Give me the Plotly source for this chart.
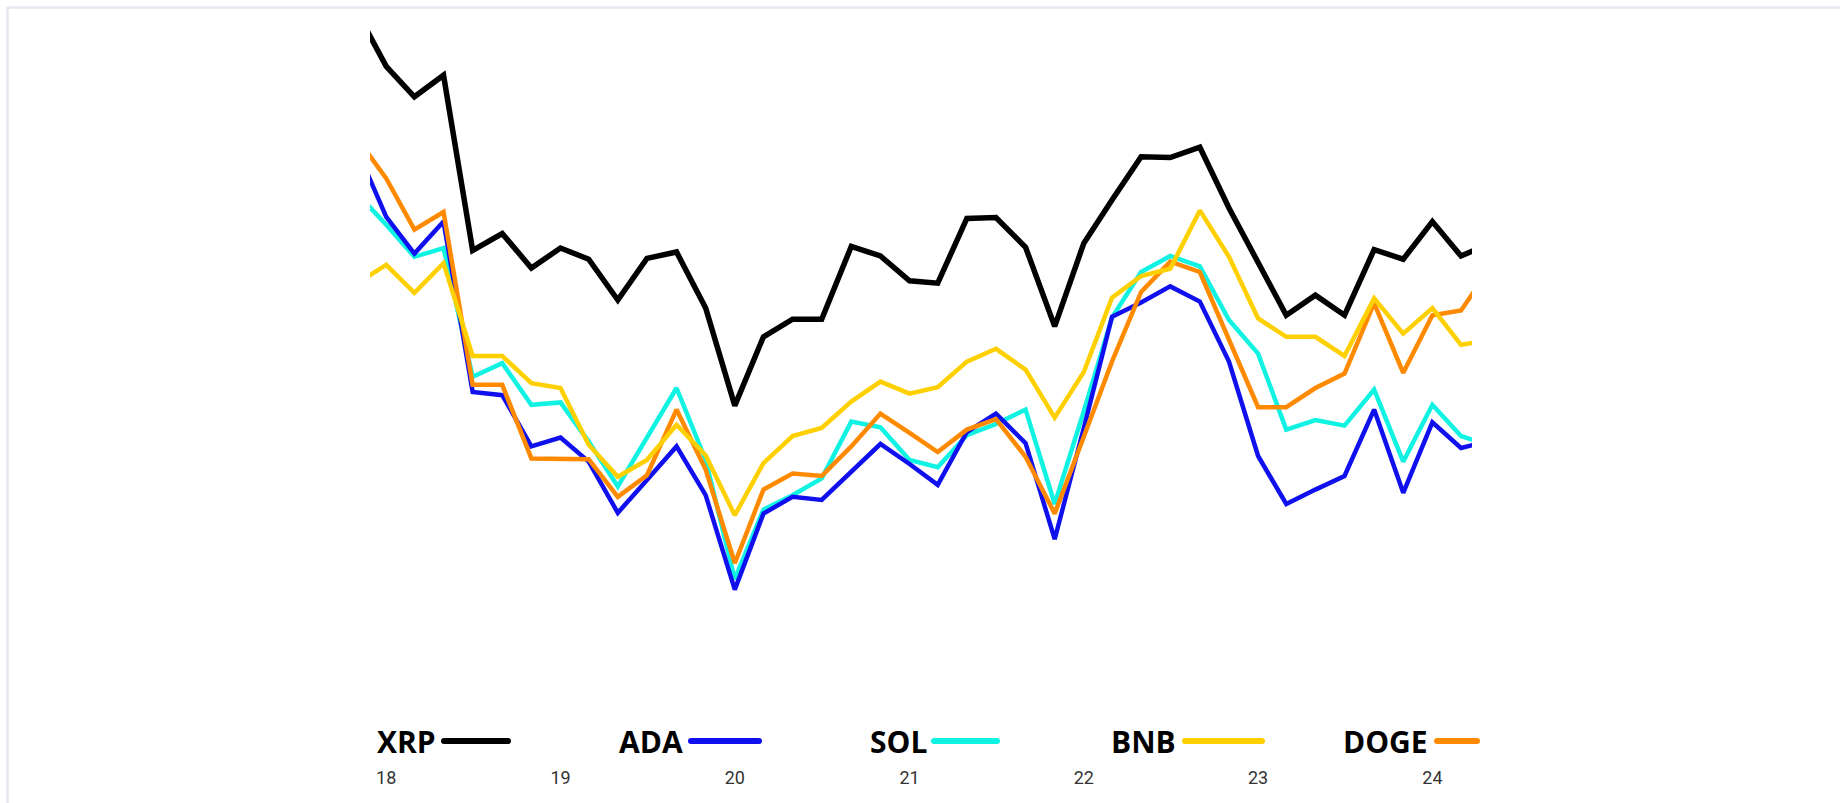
import plotly.graph_objects as go

# ---------------- data ----------------
dates = [
    "2017-11-01",
    "2018-01-01", "2018-03-01", "2018-05-01", "2018-07-01", "2018-09-01", "2018-11-01",
    "2019-01-01", "2019-03-01", "2019-05-01", "2019-07-01", "2019-09-01", "2019-11-01",
    "2020-01-01", "2020-03-01", "2020-05-01", "2020-07-01", "2020-09-01", "2020-11-01",
    "2021-01-01", "2021-03-01", "2021-05-01", "2021-07-01", "2021-09-01", "2021-11-01",
    "2022-01-01", "2022-03-01", "2022-05-01", "2022-07-01", "2022-09-01", "2022-11-01",
    "2023-01-01", "2023-03-01", "2023-05-01", "2023-07-01", "2023-09-01", "2023-11-01",
    "2024-01-01", "2024-03-01", "2024-05-01",
]

xrp = [98.5, 91.7, 87.9, 90.6, 68.7, 70.8, 66.5, 69.0, 67.6, 62.5, 67.7, 68.5, 61.5, 49.3,
       57.9, 60.1, 60.1, 69.2, 68.0, 64.9, 64.6, 72.7, 72.8, 69.1, 59.2, 69.6, 75.0, 80.4,
       80.3, 81.6, 74.0, 67.3, 60.6, 63.1, 60.6, 68.8, 67.6, 72.3, 68.0, 69.6]
ada = [81.3, 72.9, 68.3, 72.3, 51.0, 50.6, 44.2, 45.3, 42.3, 35.9, 40.0, 44.2, 38.1, 26.3,
       35.8, 37.9, 37.5, 41.1, 44.5, 42.0, 39.4, 46.0, 48.3, 44.6, 32.6, 46.5, 60.4, 62.2,
       64.2, 62.3, 54.8, 43.0, 37.0, 38.8, 40.5, 48.8, 38.4, 47.2, 44.0, 44.9]
sol = [75.8, 71.9, 67.9, 69.0, 52.9, 54.6, 49.4, 49.7, 44.8, 39.2, 45.3, 51.5, 42.5, 27.6,
       36.3, 38.1, 40.2, 47.3, 46.6, 42.5, 41.6, 45.6, 47.0, 48.8, 37.0, 48.6, 60.3, 66.0,
       68.0, 66.7, 60.0, 55.8, 46.3, 47.5, 46.8, 51.3, 42.3, 49.4, 45.5, 44.3]
bnb = [64.6, 66.9, 63.4, 67.1, 55.5, 55.5, 52.1, 51.5, 44.4, 40.4, 42.5, 46.9, 43.1, 35.6,
       42.1, 45.5, 46.5, 49.8, 52.3, 50.8, 51.6, 54.8, 56.4, 53.8, 47.8, 53.5, 62.8, 65.5,
       66.4, 73.7, 67.9, 60.2, 57.9, 57.9, 55.5, 62.7, 58.3, 61.5, 56.9, 57.5]
doge = [82.7, 77.7, 71.3, 73.5, 51.9, 51.9, 42.7, 42.7, 42.6, 37.9, 40.6, 48.8, 41.3, 29.6,
        38.8, 40.8, 40.5, 44.2, 48.3, 45.9, 43.5, 46.3, 47.6, 42.9, 35.8, 45.4, 54.8, 63.5,
        67.3, 66.0, 57.5, 49.1, 49.1, 51.5, 53.3, 62.1, 53.4, 60.6, 61.2, 66.5]

series_names = ["XRP", "ADA", "SOL", "BNB", "DOGE"]
series_values = {"XRP": xrp, "ADA": ada, "SOL": sol, "BNB": bnb, "DOGE": doge}
tick_vals = ["2018-01-01", "2019-01-01", "2020-01-01", "2021-01-01",
             "2022-01-01", "2023-01-01", "2024-01-01"]
tick_text = ["18", "19", "20", "21", "22", "23", "24"]

# ---------------- styling ----------------
colors = {"XRP": "#000000", "ADA": "#1010ee", "SOL": "#10f2e2", "BNB": "#ffd000", "DOGE": "#ff8a00"}
widths = {"XRP": 5.5, "ADA": 4.5, "SOL": 4.5, "BNB": 4.5, "DOGE": 4.5}
draw_order = ["SOL", "ADA", "DOGE", "BNB", "XRP"]

W, H = 1840, 803
PL, PR, PT, PB = 370, 1472, 8, 765


def fx(p):
    return (p - PL) / (PR - PL)


def fy(p):
    return (PB - p) / (PB - PT)


fig = go.Figure()
for name in draw_order:
    fig.add_trace(go.Scatter(
        x=dates, y=series_values[name], mode="lines", name=name,
        line=dict(color=colors[name], width=widths[name]),
        showlegend=False,
    ))

# custom legend (text followed by a line sample with rounded ends)
legend_pos = {  # text right edge, line start, line end (pixels)
    "XRP": (438, 444, 508),
    "ADA": (685, 691, 759),
    "SOL": (929, 934, 997),
    "BNB": (1178, 1185, 1262),
    "DOGE": (1430, 1437, 1477),
}
legend_y = 741
lw = 6
annotations = []
shapes = []
for name in series_names:
    tr, l0, l1 = legend_pos[name]
    annotations.append(dict(
        x=fx(tr), y=fy(legend_y), xref="paper", yref="paper",
        text=f"<b>{name}</b>", showarrow=False, xanchor="right", yanchor="middle",
        font=dict(family="Open Sans, sans-serif", size=30, color="#000000"),
    ))
    shapes.append(dict(
        type="line", xref="paper", yref="paper",
        x0=fx(l0), x1=fx(l1), y0=fy(legend_y), y1=fy(legend_y),
        line=dict(color=colors[name], width=lw),
    ))
    for cx in (l0, l1):
        shapes.append(dict(
            type="circle", xref="paper", yref="paper",
            x0=fx(cx - lw / 2), x1=fx(cx + lw / 2),
            y0=fy(legend_y + lw / 2), y1=fy(legend_y - lw / 2),
            fillcolor=colors[name], line=dict(width=0),
        ))

# light frame
frame_col = "#e3e8ee"
shapes.append(dict(type="line", xref="paper", yref="paper", x0=fx(7), x1=fx(1845),
                   y0=fy(7.5), y1=fy(7.5), line=dict(color=frame_col, width=2.5)))
shapes.append(dict(type="line", xref="paper", yref="paper", x0=fx(7.5), x1=fx(7.5),
                   y0=fy(7), y1=fy(810), line=dict(color=frame_col, width=2.5)))

fig.update_layout(
    width=W, height=H,
    margin=dict(l=PL, r=W - PR, t=PT, b=H - PB, pad=0),
    paper_bgcolor="#ffffff", plot_bgcolor="#ffffff",
    showlegend=False,
    xaxis=dict(
        type="date", range=["2017-11-28", "2024-03-24"],
        tickvals=tick_vals, ticktext=tick_text,
        showgrid=False, zeroline=False, showline=False, ticks="",
        tickfont=dict(family="Liberation Sans Narrow, Roboto, sans-serif", size=18, color="#333333"),
    ),
    yaxis=dict(range=[100 - PB / 8, 100 - PT / 8], visible=False, showgrid=False, zeroline=False),
    annotations=annotations,
    shapes=shapes,
)

fig.write_html(
    "out.html",
    config={"displayModeBar": False},
    post_script="document.body.style.margin='0';document.body.style.overflow='hidden';",
)
